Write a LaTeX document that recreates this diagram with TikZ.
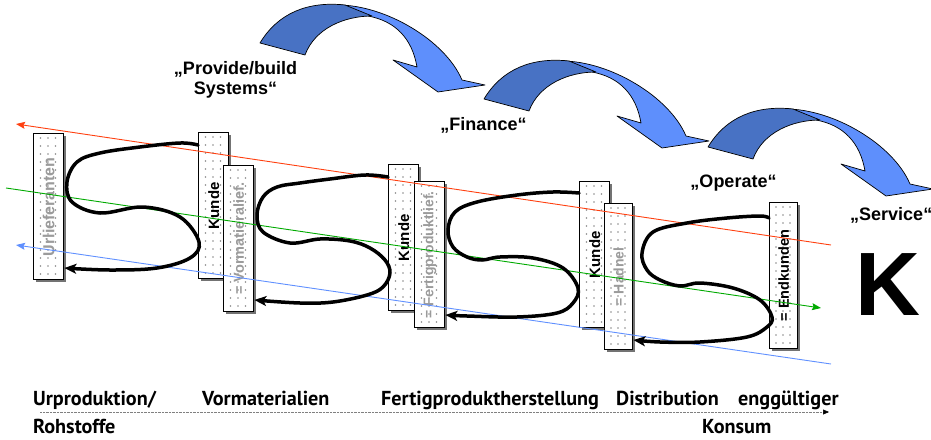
\documentclass[tikz,border=0pt]{standalone}
\usepackage{fontspec}
\setmainfont{Liberation Sans}
\newfontfamily\axisfont{PT Sans}
\usetikzlibrary{arrows.meta}

\definecolor{ribbondark}{RGB}{72,114,196}
\definecolor{ribbonlight}{RGB}{94,143,252}
\definecolor{linered}{RGB}{255,64,16}
\definecolor{linegreen}{RGB}{0,170,0}
\definecolor{lineblue}{RGB}{96,144,255}
\definecolor{dotgray}{RGB}{140,140,140}
\definecolor{labelgray}{RGB}{155,155,155}
\definecolor{shadowgray}{RGB}{115,115,115}

\tikzset{
  stagebox/.style={draw=black, line width=1.4pt, fill=white, minimum height=146pt, inner sep=0pt, anchor=north west},
  boxtext/.style={rotate=90, inner sep=0pt, font=\bfseries\fontsize{#1}{16}\selectfont},
  boxtext/.default=15,
  phase/.style={inner sep=0pt, anchor=base, font=\bfseries\fontsize{18}{20}\selectfont},
  axislabel/.style={inner sep=0pt, anchor=base west, font=\axisfont\bfseries\fontsize{20.2}{22}\selectfont},
  flowline/.style={line width=0.9pt, -{Stealth[length=9pt,width=7pt,inset=1.5pt]}},
  loopline/.style={line width=3.5pt, line cap=round, line join=round, -{Stealth[length=12pt,width=10pt,inset=3pt]}},
  ribbon/.style={draw=black, line width=0.7pt, line join=round},
}

% one stage: shadow, dotted white box
\newcommand\stage[4]{% name, left, top, width
  \fill[shadowgray] (#2+2.5,#3+2.5) rectangle ++(#4,146);
  \node[stagebox, minimum width=#4 pt] (#1) at (#2,#3) {};
  \foreach \dy in {5,13,...,141}
    \foreach \fx in {0.25,0.5,0.75}
      \fill[dotgray] (#2+\fx*#4,#3+\dy) circle[radius=0.8pt];
}

% curved ribbon arrow, tail corner at (#1,#2)
\newcommand\ribbonarrow[2]{%
  \begin{scope}[shift={(#1,#2)}]
    \filldraw[ribbon, fill=ribbonlight] (78,-38) .. controls (125,-38) and (185,-3) .. (202,37)
      -- (225,42) -- (178,49) -- (133,17) -- (157,24)
      .. controls (152,-5) and (135,-22) .. (108,-27) -- cycle;
    \filldraw[ribbon, fill=ribbondark] (0,0) .. controls (18,-30) and (48,-42) .. (85,-38)
      -- (112,-27) .. controls (85,-27) and (55,-15) .. (45,12) -- cycle;
  \end{scope}
}

\begin{document}
\begin{tikzpicture}[x=1pt, y=-1pt]
\useasboundingbox (0,0) rectangle (931,439);

% process arrows at the top
\ribbonarrow{260}{43}
\ribbonarrow{484}{99}
\ribbonarrow{708}{147}

\node[phase] (pb1) at (235.5,74) {„Provide/build};
\node[phase] (pb2) at (235.5,94) {Systems“};
\node[phase] (fin) at (483.5,130) {„Finance“};
\node[phase] (ope) at (733.5,187) {„Operate“};
\node[phase, anchor=base west] (ser) at (850,220) {„Service“};

\node[inner sep=0pt, anchor=base west, font=\bfseries\fontsize{90}{90}\selectfont] (bigk) at (855.5,315) {K};

% stages of the chain
\stage{ul}{33}{133}{30}
\stage{k1}{198}{132}{30}
\stage{vm}{223}{165}{30}
\stage{k2}{388}{164}{30}
\stage{fp}{414}{181}{30}
\stage{k3}{579}{181}{30}
\stage{ha}{604}{203}{28}
\stage{ek}{769}{202}{28}

\node[boxtext=16, text=labelgray] (tul) at (ul) {Urlieferanten};
\node[boxtext] (tk1) at (k1) {Kunde};
\node[boxtext=14.5, text=labelgray] (tvm) at (vm) {= Vormatieralief.};
\node[boxtext] (tk2) at (k2) {Kunde};
\node[boxtext=14, text=labelgray] (tfp) at (fp) {= Fertigproduktlief.};
\node[boxtext] (tk3) at (k3) {Kunde};
\node[boxtext=14, text=labelgray] (tha) at (ha) {= Hadnel};
\node[boxtext=14.5] (tek) at (ek) {= Endkunden};

% parallel flows
\coordinate (redR) at (831,245);
\coordinate (redL) at (16,124);
\coordinate (grnL) at (6,188);
\coordinate (grnR) at (821,308);
\coordinate (bluR) at (831,364);
\coordinate (bluL) at (16,245);
\draw[flowline, linered] (redR) -- (redL);
\draw[flowline, linegreen] (grnL) -- (grnR);
\draw[flowline, lineblue] (bluR) -- (bluL);

% loops between neighbouring stages
\coordinate (l1s) at (k1.west |- 0,145);
\coordinate (l1e) at (ul.east |- 0,268);
\coordinate (l2s) at (k2.west |- 0,177);
\coordinate (l2e) at (vm.east |- 0,300);
\coordinate (l3s) at (k3.west |- 0,193);
\coordinate (l3e) at (fp.east |- 0,315);
\coordinate (l4s) at (ek.west |- 0,218);
\coordinate (l4e) at (ha.east |- 0,340);

\draw[loopline] plot[smooth, tension=0.6] coordinates {(l1s) (180,143) (140,147) (100,153) (77,162) (67,182) (72,202) (100,213) (143,207) (180,217) (199,242) (190,258) (157,268) (110,270) (l1e)};
\draw[loopline] plot[smooth, tension=0.6] coordinates {(l2s) (365,175) (330,179) (300,183) (277,187) (263,197) (257,215) (263,232) (290,243) (320,239) (350,241) (370,248) (385,260) (390,273) (383,287) (367,295) (333,302) (300,303) (l2e)};
\draw[loopline] plot[smooth, tension=0.6] coordinates {(l3s) (553,192) (517,195) (477,202) (455,212) (448,230) (453,247) (467,257) (482,260) (500,257) (533,258) (563,268) (578,288) (573,303) (557,313) (517,317) (467,316) (l3e)};
\draw[loopline] plot[smooth, tension=0.6] coordinates {(l4s) (760,216) (727,218) (687,223) (653,232) (642,253) (647,270) (660,280) (680,286) (700,283) (733,288) (760,300) (772,317) (767,327) (747,337) (700,342) (660,342) (l4e)};

% value chain axis
\coordinate (axL) at (40,412);
\coordinate (axR) at (829,412);
\draw[gray, line width=0.5pt, dash pattern=on 0.6pt off 0.8pt, -{Triangle[black, length=6pt, width=5pt]}] (axL) -- (axR);

\node[axislabel] (a1) at (33,405) {Urproduktion/};
\node[axislabel] (a2) at (202,405) {Vormaterialien};
\node[axislabel] (a3) at (381,405) {Fertigproduktherstellung};
\node[axislabel] (a4) at (616,405) {Distribution};
\node[axislabel] (a5) at (738,405) {enggültiger};
\node[axislabel] (a6) at (33,433) {Rohstoffe};
\node[axislabel] (a7) at (702,433) {Konsum};
\end{tikzpicture}
\end{document}
